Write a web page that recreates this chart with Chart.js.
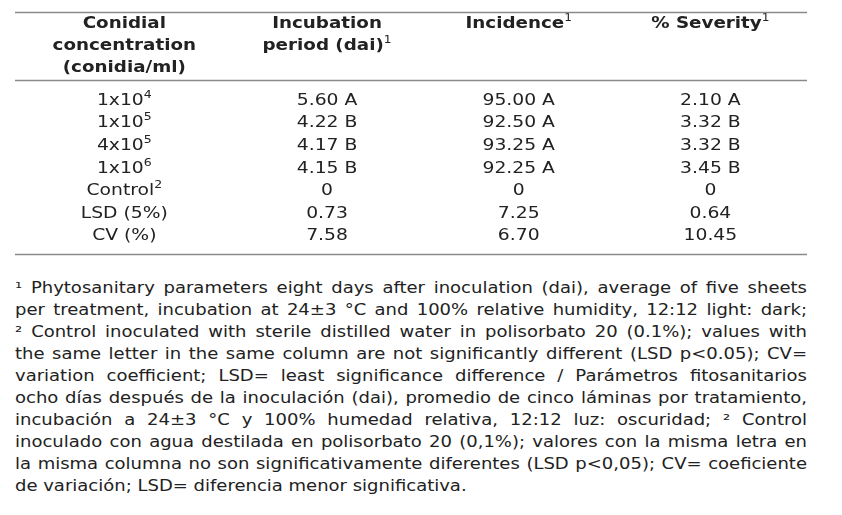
<!DOCTYPE html>
<html>
<head>
<meta charset="utf-8">
<script src="https://cdn.jsdelivr.net/npm/chart.js@4.4.0/dist/chart.umd.min.js"></script>
<style>
  body { margin: 0; background: #fff; }
  #wrap { position: relative; width: 842px; height: 265px; }
  #notes {
    position: absolute; left: 15px; top: 277px; width: 660px;
    font-family: 'DejaVu Sans', Verdana, sans-serif; font-size: 15px;
    line-height: 22px; color: #222;
    transform: scaleX(1.2); transform-origin: 0 0;
  }
  #notes div { text-align: justify; text-align-last: justify; white-space: nowrap; }
  #notes div.last { text-align-last: left; }
</style>
</head>
<body>
<div id="wrap"><canvas id="table"></canvas></div>
<div id="notes">
  <div>¹ Phytosanitary parameters eight days after inoculation (dai), average of five sheets</div>
  <div>per treatment, incubation at 24±3 °C and 100% relative humidity, 12:12 light: dark;</div>
  <div>² Control inoculated with sterile distilled water in polisorbato 20 (0.1%); values with</div>
  <div>the same letter in the same column are not significantly different (LSD p&lt;0.05); CV=</div>
  <div>variation coefficient; LSD= least significance difference / Parámetros fitosanitarios</div>
  <div>ocho días después de la inoculación (dai), promedio de cinco láminas por tratamiento,</div>
  <div>incubación a 24±3 °C y 100% humedad relativa, 12:12 luz: oscuridad; ² Control</div>
  <div>inoculado con agua destilada en polisorbato 20 (0,1%); valores con la misma letra en</div>
  <div>la misma columna no son significativamente diferentes (LSD p&lt;0,05); CV= coeficiente</div>
  <div class="last">de variación; LSD= diferencia menor significativa.</div>
</div>
<script>
// table data
var concMantissa = [1, 1, 4, 1];
var concExponent = [4, 5, 5, 6];
var incubation = [5.60, 4.22, 4.17, 4.15, 0];
var incubationGroup = ['A', 'B', 'B', 'B'];
var incidence = [95.00, 92.50, 93.25, 92.25, 0];
var incidenceGroup = ['A', 'A', 'A', 'A'];
var severity = [2.10, 3.32, 3.32, 3.45, 0];
var severityGroup = ['A', 'B', 'B', 'B'];
var lsd = [0.73, 7.25, 0.64];
var cv = [7.58, 6.70, 10.45];

// headers, [text, superscript]
var headers = [
  [[['Conidial']], [['concentration']], [['(conidia/ml)']]],
  [[['Incubation']], [['period (dai)'], ['1', true]]],
  [[['Incidence'], ['1', true]]],
  [[['% Severity'], ['1', true]]]
];

// layout (styles only)
var colCenter = [13.8, 39.4, 63.6, 87.8];   // % of table width
var headerRows = [-3.41, -2.44, -1.47];
var rules = [-3.94, -0.93, 6.77];
var fontFamily = "'DejaVu Sans', Verdana, sans-serif";
var textSize = 15;
var stretch = 1.25;      // glyphs in the original are wide
var boldStretch = 1.22;
var textColor = '#222';

function fmt(v) { return v === 0 ? '0' : v.toFixed(2); }

function rowLabels() {
  var out = [];
  for (var i = 0; i < concMantissa.length; i++) {
    out.push([[concMantissa[i] + 'x10'], [String(concExponent[i]), true]]);
  }
  out.push([['Control'], ['2', true]]);
  out.push([['LSD (5%)']]);
  out.push([['CV (%)']]);
  return out;
}

function valueLabels(vals, groups, c) {
  var out = [];
  for (var i = 0; i < vals.length; i++) {
    var t = fmt(vals[i]) + (groups[i] ? ' ' + groups[i] : '');
    out.push([[t]]);
  }
  out.push([[fmt(lsd[c])]]);
  out.push([[fmt(cv[c])]]);
  return out;
}

var columns = [
  rowLabels(),
  valueLabels(incubation, incubationGroup, 0),
  valueLabels(incidence, incidenceGroup, 1),
  valueLabels(severity, severityGroup, 2)
];

var datasets = columns.map(function(cells, c) {
  return {
    label: 'col' + c,
    cells: cells,
    data: cells.map(function(_, i) { return { x: colCenter[c], y: i }; }),
    pointRadius: 0,
    showLine: false
  };
});

function drawParts(ctx, parts, x, y, bold) {
  var sx = bold ? boldStretch : stretch;
  var main = (bold ? 'bold ' : '') + textSize + 'px ' + fontFamily;
  var sup = Math.round(textSize * 0.68) + 'px ' + fontFamily;
  var total = 0;
  parts.forEach(function(p) {
    ctx.font = p[1] ? sup : main;
    total += ctx.measureText(p[0]).width * sx;
  });
  var cx = x - total / 2;
  parts.forEach(function(p) {
    ctx.font = p[1] ? sup : main;
    ctx.save();
    ctx.translate(cx, p[1] ? y - textSize * 0.38 : y);
    ctx.scale(sx, 1);
    ctx.fillText(p[0], 0, 0);
    ctx.restore();
    cx += ctx.measureText(p[0]).width * sx;
  });
}

var tablePlugin = {
  id: 'tableText',
  afterDatasetsDraw: function(chart) {
    var ctx = chart.ctx;
    var xs = chart.scales.x, ys = chart.scales.y;
    ctx.save();
    ctx.fillStyle = textColor;
    ctx.textBaseline = 'middle';
    ctx.textAlign = 'left';
    // header
    headers.forEach(function(lines, c) {
      lines.forEach(function(parts, k) {
        drawParts(ctx, parts, xs.getPixelForValue(colCenter[c]), ys.getPixelForValue(headerRows[k]), true);
      });
    });
    // body cells
    chart.data.datasets.forEach(function(ds, d) {
      var meta = chart.getDatasetMeta(d);
      meta.data.forEach(function(pt, i) {
        drawParts(ctx, ds.cells[i], pt.x, pt.y, false);
      });
    });
    // horizontal rules
    ctx.strokeStyle = '#8a8a8a';
    ctx.lineWidth = 1.5;
    rules.forEach(function(r) {
      var py = Math.round(ys.getPixelForValue(r)) + 0.5;
      ctx.beginPath();
      ctx.moveTo(xs.left, py);
      ctx.lineTo(xs.right, py);
      ctx.stroke();
    });
    ctx.restore();
  }
};

var ctx = document.getElementById('table').getContext('2d');
var myTable = new Chart(ctx, {
  type: 'scatter',
  data: { datasets: datasets },
  options: {
    responsive: true,
    maintainAspectRatio: false,
    animation: false,
    layout: { padding: { left: 15, right: 35, top: 0, bottom: 0 } },
    scales: {
      x: { display: false, min: 0, max: 100 },
      y: { display: false, reverse: true, min: -4.47, max: 7.26 }
    },
    plugins: {
      legend: { display: false },
      tooltip: { enabled: false }
    }
  },
  plugins: [tablePlugin]
});
</script>
</body>
</html>
